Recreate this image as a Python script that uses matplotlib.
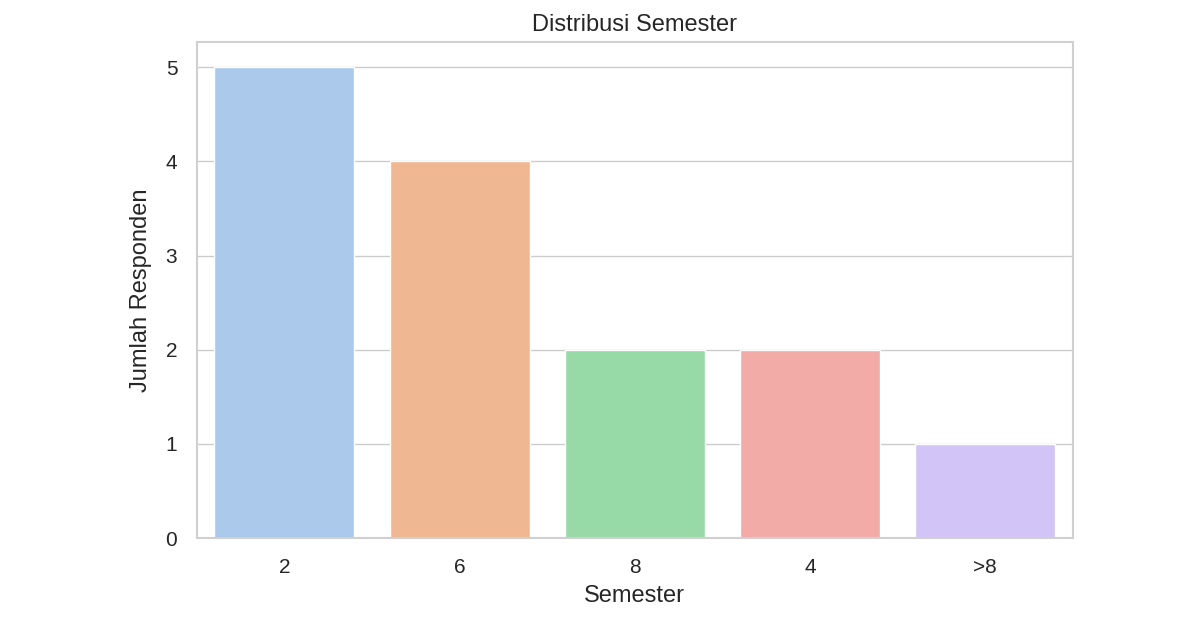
import matplotlib
matplotlib.use("Agg")
import matplotlib.pyplot as plt
import seaborn as sns

semesters = ["2", "6", "8", "4", ">8"]
counts = [5, 4, 2, 2, 1]

sns.set_theme(style="whitegrid")
plt.rcParams['font.family'] = ['Arial', 'Liberation Sans', 'DejaVu Sans']

fig = plt.figure(figsize=(12, 6.28), dpi=100)
ax = fig.add_axes([0.164, 0.143, 0.730, 0.790])
# seaborn countplot desaturates the palette by 0.75
colors = [sns.desaturate(c, 0.75) for c in sns.color_palette("pastel", len(semesters))]
ax.bar(semesters, counts, color=colors, width=0.8, edgecolor="white")
ax.set_xlim(-0.5, len(semesters) - 0.5)
ax.set_ylim(0, 5.265)
ax.set_yticks([0, 1, 2, 3, 4, 5])
ax.tick_params(labelsize=15, pad=8)
ax.set_xlabel("Semester", fontsize=17, labelpad=6)
ax.set_ylabel("Jumlah Responden", fontsize=17, labelpad=10)
ax.set_title("Distribusi Semester", fontsize=17, pad=8)
ax.xaxis.grid(False)
for s in ax.spines.values():
    s.set_color("#d0d0d0")
    s.set_linewidth(1.5)

fig.savefig("out.png", dpi=100)
